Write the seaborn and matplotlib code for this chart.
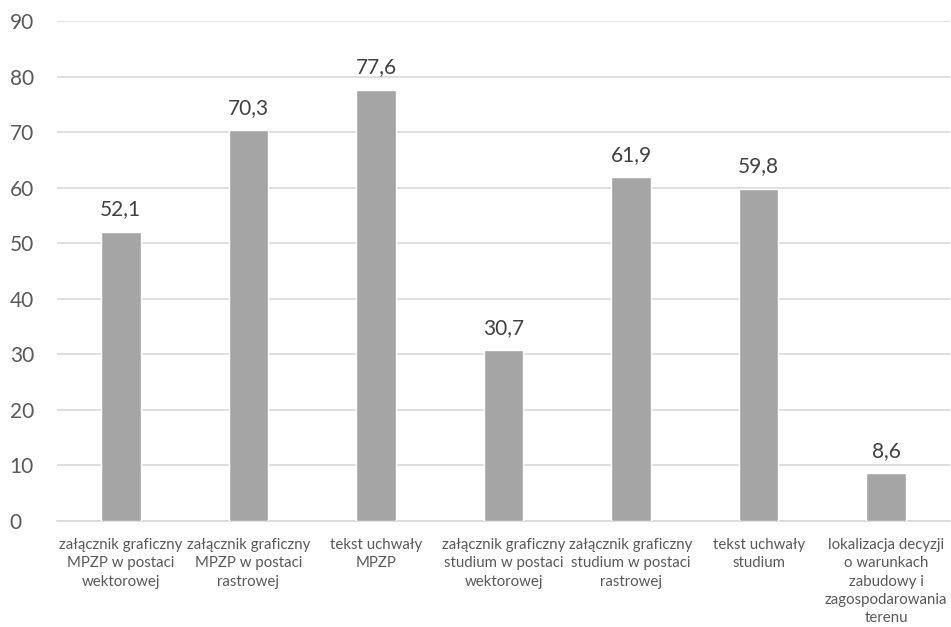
import matplotlib
matplotlib.use("Agg")
import matplotlib.pyplot as plt
import seaborn as sns
import pandas as pd

categories = [
    "załącznik graficzny\nMPZP w postaci\nwektorowej",
    "załącznik graficzny\nMPZP w postaci\nrastrowej",
    "tekst uchwały\nMPZP",
    "załącznik graficzny\nstudium w postaci\nwektorowej",
    "załącznik graficzny\nstudium w postaci\nrastrowej",
    "tekst uchwały\nstudium",
    "lokalizacja decyzji\no warunkach\nzabudowy i\nzagospodarowania\nterenu",
]
values = [52.1, 70.3, 77.6, 30.7, 61.9, 59.8, 8.6]
yticks = [0, 10, 20, 30, 40, 50, 60, 70, 80, 90]

sns.set_theme(style="white")
plt.rcParams["font.family"] = ["Lato", "DejaVu Sans"]

df = pd.DataFrame({"kategoria": categories, "wartosc": values})

fig = plt.figure(figsize=(9.51, 6.27), dpi=100)
ax = fig.add_axes([0.060, 0.169, 0.939, 0.7975])

sns.barplot(data=df, x="kategoria", y="wartosc", color="#a5a5a5",
            width=0.31, saturation=1, ax=ax, zorder=3)

ax.set_ylim(0, 90)
ax.set_yticks(yticks)
ax.set_xlim(-0.5, len(categories) - 0.5)
ax.yaxis.grid(True, color="#d9d9d9", linewidth=1.2, zorder=0)
ax.set_axisbelow(True)
for s in ["top", "right", "left"]:
    ax.spines[s].set_visible(False)
ax.spines["bottom"].set_color("#d9d9d9")
ax.spines["bottom"].set_linewidth(1.2)

ax.set_xlabel("")
ax.set_ylabel("")
ax.tick_params(axis="y", colors="#595959", labelsize=15, length=0, pad=0)
ax.tick_params(axis="x", colors="#595959", labelsize=10.8, length=0, pad=12)
for lbl in ax.get_xticklabels():
    lbl.set_linespacing(1.4)
for lbl in ax.get_yticklabels():
    lbl.set_horizontalalignment("left")
    lbl.set_position((-0.053, lbl.get_position()[1]))
    lbl.set_transform(ax.get_yaxis_transform())

ax.bar_label(ax.containers[0], labels=[f"{v:.1f}".replace(".", ",") for v in values],
             padding=9, fontsize=15, color="#404040")

fig.savefig("out.png", dpi=100)
